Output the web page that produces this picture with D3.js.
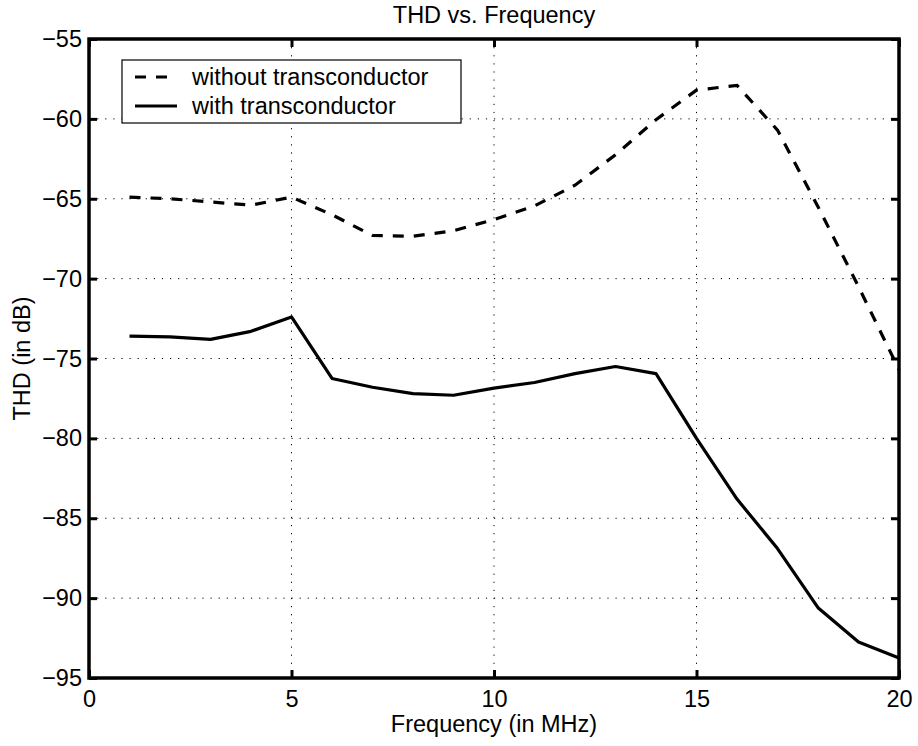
<!DOCTYPE html>
<html><head><meta charset="utf-8">
<script src="https://cdn.jsdelivr.net/npm/d3@7"></script>
<style>
html,body{margin:0;padding:0;background:#fff;}
svg text{font-family:"Liberation Sans",Arial,Helvetica,sans-serif;fill:#000;}
</style></head>
<body>
<svg id="chart" width="918" height="746"></svg>
<script>
const freq = [1,2,3,4,5,6,7,8,9,10,11,12,13,14,15,16,17,18,19,20];
const withoutTrans = [-64.9,-65.0,-65.2,-65.4,-64.9,-66.0,-67.3,-67.35,-67.0,-66.3,-65.45,-64.15,-62.25,-60.05,-58.2,-57.9,-60.7,-65.5,-70.5,-75.7];
const withTrans = [-73.6,-73.65,-73.8,-73.3,-72.4,-76.25,-76.8,-77.2,-77.3,-76.85,-76.5,-75.95,-75.5,-75.95,-80.0,-83.8,-86.9,-90.6,-92.75,-93.75];
const xTicks = [0,5,10,15,20];
const yTicks = [-95,-90,-85,-80,-75,-70,-65,-60,-55];
const seriesNames = ["without transconductor","with transconductor"];
const titleText = "THD vs. Frequency";
const xLabel = "Frequency (in MHz)";
const yLabel = "THD (in dB)";

const L = 89, R = 899, T = 39, B = 678;
const svg = d3.select("#chart");
const x = d3.scaleLinear().domain([0,20]).range([L,R]);
const y = d3.scaleLinear().domain([-95,-55]).range([B,T]);
const FS = 23.5;

// grid
const grid = svg.append("g");
grid.selectAll("line.vg").data(xTicks.filter(d=>d>0&&d<20)).enter().append("line")
  .attr("x1",d=>x(d)).attr("x2",d=>x(d)).attr("y1",T).attr("y2",B)
  .attr("stroke","#000").attr("stroke-width",1).attr("stroke-dasharray","1.2,6.9");
grid.selectAll("line.hg").data(yTicks.filter(d=>d>-95&&d<-55)).enter().append("line")
  .attr("x1",L).attr("x2",R).attr("y1",d=>y(d)).attr("y2",d=>y(d))
  .attr("stroke","#000").attr("stroke-width",1).attr("stroke-dasharray","1.2,6.9");

// axes with inward ticks on all sides
const tl = 8;
const bottomAx = svg.append("g").attr("transform",`translate(0,${B})`)
  .call(d3.axisBottom(x).tickValues(xTicks).tickSizeInner(-tl).tickSizeOuter(0).tickPadding(12));
const topAx = svg.append("g").attr("transform",`translate(0,${T})`)
  .call(d3.axisTop(x).tickValues(xTicks).tickSizeInner(-tl).tickSizeOuter(0).tickFormat(""));
const leftAx = svg.append("g").attr("transform",`translate(${L},0)`)
  .call(d3.axisLeft(y).tickValues(yTicks).tickSizeInner(-tl).tickSizeOuter(0).tickPadding(7));
const rightAx = svg.append("g").attr("transform",`translate(${R},0)`)
  .call(d3.axisRight(y).tickValues(yTicks).tickSizeInner(-tl).tickSizeOuter(0).tickFormat(""));
[bottomAx,topAx,leftAx,rightAx].forEach(g=>{
  g.select(".domain").remove();
  g.selectAll(".tick line").attr("stroke","#000").attr("stroke-width",3);
  g.selectAll(".tick text").style("font-size",FS+"px").attr("font-family",null);
});
bottomAx.selectAll(".tick text").attr("dy","0.71em");
// frame
svg.append("rect").attr("x",L).attr("y",T).attr("width",R-L).attr("height",B-T)
  .attr("fill","none").attr("stroke","#000").attr("stroke-width",3.5);

// lines
const line = d3.line().x((d,i)=>x(freq[i])).y(d=>y(d));
svg.append("path").datum(withoutTrans).attr("d",line).attr("fill","none")
  .attr("stroke","#000").attr("stroke-width",3.2).attr("stroke-dasharray","11,10");
svg.append("path").datum(withTrans).attr("d",line).attr("fill","none")
  .attr("stroke","#000").attr("stroke-width",3.2).attr("stroke-linejoin","round");

// legend
const lg = svg.append("g");
lg.append("rect").attr("x",122).attr("y",60).attr("width",339).attr("height",63)
  .attr("fill","#fff").attr("stroke","#000").attr("stroke-width",1.2);
const rows = [{dash:"11,10",yy:77},{dash:null,yy:106}];
rows.forEach((r,i)=>{
  lg.append("line").attr("x1",135).attr("x2",177).attr("y1",r.yy).attr("y2",r.yy)
    .attr("stroke","#000").attr("stroke-width",3.2).attr("stroke-dasharray",r.dash);
  lg.append("text").attr("x",192).attr("y",r.yy+8).style("font-size",FS+"px").text(seriesNames[i]);
});

// titles
svg.append("text").attr("x",(L+R)/2).attr("y",23).attr("text-anchor","middle")
  .style("font-size",FS+"px").text(titleText);
svg.append("text").attr("x",(L+R)/2).attr("y",732).attr("text-anchor","middle")
  .style("font-size",FS+"px").text(xLabel);
svg.append("text").attr("transform",`translate(30,${(T+B)/2}) rotate(-90)`).attr("text-anchor","middle")
  .style("font-size",FS+"px").text(yLabel);
</script>
</body></html>
